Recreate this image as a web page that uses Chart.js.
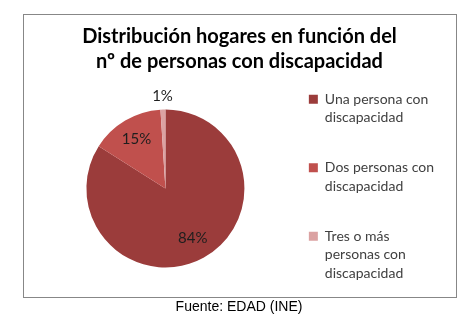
<!DOCTYPE html>
<html lang="es">
<head>
<meta charset="utf-8">
<title>Distribución hogares</title>
<script src="https://cdn.jsdelivr.net/npm/chart.js@4.4.1/dist/chart.umd.min.js"></script>
<style>
    html, body { margin: 0; padding: 0; background: #fff; }
    #marco {
        position: absolute; left: 23px; top: 14px;
        width: 432px; height: 282px;
        border: 1px solid #878787;
        pointer-events: none;
    }
    #grafica { position: absolute; left: 0; top: 0; }
    #fuente {
        position: absolute; left: 0; top: 298px; width: 478px;
        text-align: center;
        font-family: "Liberation Sans", Arial, sans-serif;
        font-size: 14px; line-height: 16px; color: #000;
    }
</style>
</head>
<body>
<canvas id="grafica" width="468" height="321"></canvas>
<div id="marco"></div>
<div id="fuente">Fuente: EDAD (INE)</div>

<script>
// datos del gráfico
const categorias = [
    ['Una persona con', 'discapacidad'],
    ['Dos personas con', 'discapacidad'],
    ['Tres o más', 'personas con', 'discapacidad']
];
const porcentajes = [84, 15, 1];
const colores = ['#9B3C3B', '#C0504D', '#DBA2A2'];
const titulo = ['Distribución hogares en función del', 'nº de personas con discapacidad'];

// etiquetas de porcentaje sobre cada sector
const etiquetasSectores = {
    id: 'etiquetasSectores',
    afterDatasetsDraw(chart) {
        const ctx = chart.ctx;
        const meta = chart.getDatasetMeta(0);
        ctx.save();
        ctx.font = '15px Lato';
        ctx.fillStyle = '#1e1e1e';
        ctx.textAlign = 'center';
        ctx.textBaseline = 'middle';
        meta.data.forEach((arc, i) => {
            const valor = chart.data.datasets[0].data[i];
            const angulo = (arc.startAngle + arc.endAngle) / 2;
            const r = arc.outerRadius * (valor < 5 ? 1.17 : 0.72);
            ctx.fillText(valor + '%', arc.x + Math.cos(angulo) * r, arc.y + Math.sin(angulo) * r);
        });
        ctx.restore();
    }
};

function dibujarGrafica() {
    const ctx = document.getElementById('grafica').getContext('2d');

    new Chart(ctx, {
        type: 'pie',
        data: {
            labels: categorias,
            datasets: [{
                data: porcentajes,
                backgroundColor: colores,
                borderWidth: 0,
                radius: 79
            }]
        },
        options: {
            responsive: false,
            animation: false,
            devicePixelRatio: 1,
            layout: {
                padding: { left: 35, right: 24, top: 14, bottom: 22 }
            },
            plugins: {
                title: {
                    display: true,
                    text: titulo,
                    color: '#000',
                    font: { family: 'Lato', size: 20, weight: 'bold', lineHeight: 1.25 },
                    padding: { top: 10, bottom: 4 }
                },
                legend: {
                    position: 'right',
                    fullSize: false,
                    labels: {
                        boxWidth: 9,
                        boxHeight: 9,
                        padding: 13,
                        color: '#404040',
                        font: { family: 'Lato', size: 14, lineHeight: 1.32 },
                        generateLabels: chart => chart.data.labels.map((lineas, i) => ({
                            // línea vacía extra para separar los elementos como en el original
                            text: i < chart.data.labels.length - 1 ? lineas.concat(['']) : lineas,
                            fillStyle: colores[i],
                            strokeStyle: colores[i],
                            lineWidth: 0,
                            fontColor: '#404040',
                            hidden: false,
                            index: i
                        }))
                    }
                },
                tooltip: { enabled: false }
            }
        },
        plugins: [etiquetasSectores]
    });
}

document.addEventListener('DOMContentLoaded', dibujarGrafica);
</script>
</body>
</html>
